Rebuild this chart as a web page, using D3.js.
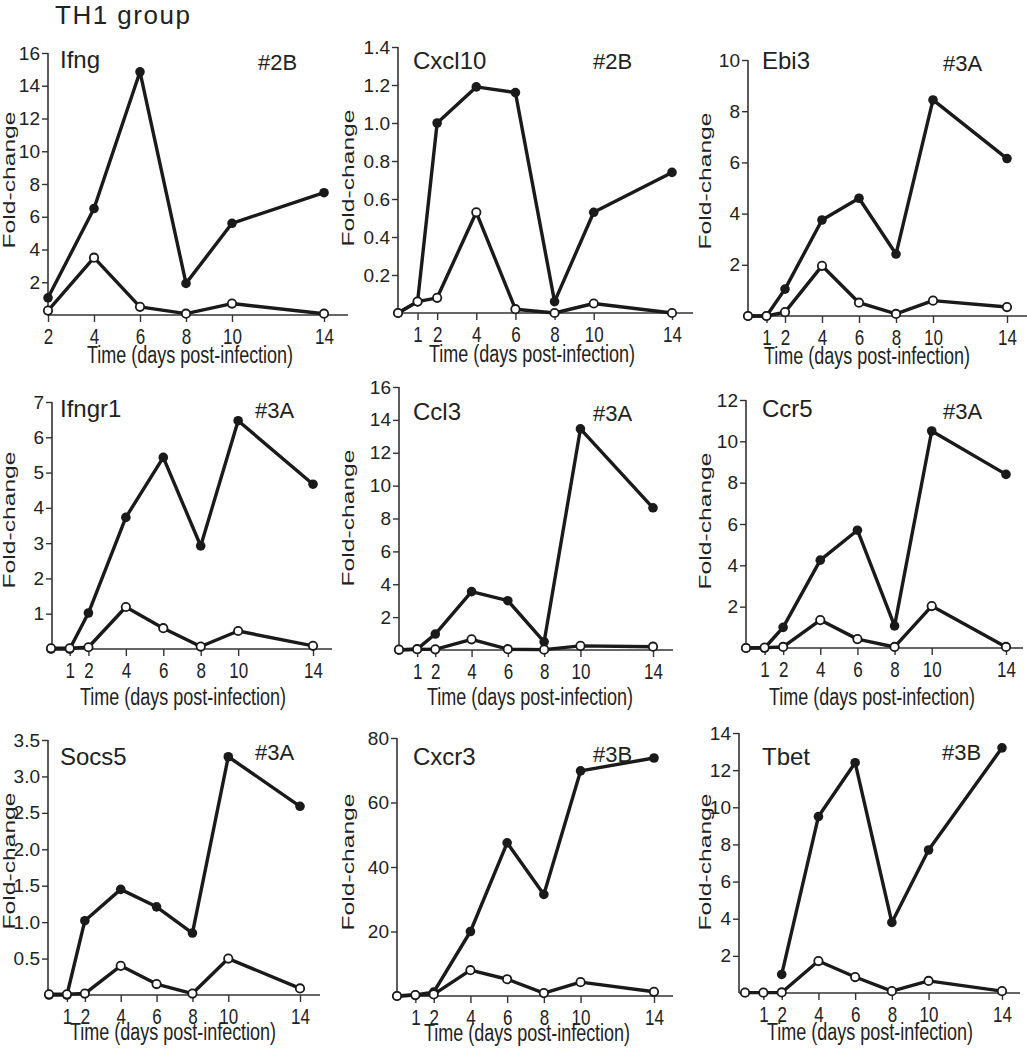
<!DOCTYPE html>
<html>
<head>
<meta charset="utf-8">
<script src="https://cdn.jsdelivr.net/npm/d3@7"></script>
<style>
  html, body { margin: 0; padding: 0; background: #fff; }
  svg { display: block; font-family: "Liberation Sans", Arial, Helvetica, sans-serif; }
</style>
</head>
<body>
<svg id="chart" width="1027" height="1050"></svg>
<script>
// ---------------- DATA ----------------
const title = "TH1 group";
const genes = ["Ifng", "Cxcl10", "Ebi3", "Ifngr1", "Ccl3", "Ccr5", "Socs5", "Cxcr3", "Tbet"];
const figureRefs = ["#2B", "#2B", "#3A", "#3A", "#3A", "#3A", "#3A", "#3B", "#3B"];
const yAxisLabel = "Fold-change";
const xAxisLabel = "Time (days post-infection)";

const daysIfng = [2, 4, 6, 8, 10, 14];
const daysAll = [0, 1, 2, 4, 6, 8, 10, 14];
const xTicksIfng = [2, 4, 6, 8, 10, 14];
const xTicksAll = [1, 2, 4, 6, 8, 10, 14];

const ifngFilled   = [1.05, 6.5, 14.85, 1.93, 5.6, 7.47];
const ifngOpen     = [0.27, 3.5, 0.5, 0.08, 0.7, 0.08];
const cxcl10Filled = [0, 0.06, 1.0, 1.19, 1.16, 0.06, 0.53, 0.74];
const cxcl10Open   = [0, 0.06, 0.08, 0.53, 0.02, 0.0, 0.05, 0.0];
const ebi3Filled   = [0, 0, 1.05, 3.75, 4.6, 2.42, 8.44, 6.15];
const ebi3Open     = [0, 0, 0.15, 1.96, 0.52, 0.08, 0.6, 0.35];
const ifngr1Filled = [0, 0, 1.02, 3.73, 5.43, 2.92, 6.47, 4.67];
const ifngr1Open   = [0.02, 0.02, 0.05, 1.19, 0.59, 0.07, 0.51, 0.09];
const ccl3Filled   = [0, 0.05, 0.97, 3.55, 3.0, 0.5, 13.45, 8.65];
const ccl3Open     = [0.02, 0.05, 0.04, 0.65, 0.05, 0.02, 0.25, 0.2];
const ccr5Filled   = [0, 0, 1.0, 4.25, 5.7, 1.07, 10.5, 8.4];
const ccr5Open     = [0, 0.02, 0.05, 1.35, 0.43, 0.05, 2.03, 0.05];
const socs5Filled  = [0, 0, 1.02, 1.45, 1.21, 0.85, 3.27, 2.59];
const socs5Open    = [0.01, 0.01, 0.02, 0.4, 0.15, 0.02, 0.5, 0.09];
const cxcr3Filled  = [0, 0.3, 1.2, 20, 47.5, 31.5, 69.8, 73.8];
const cxcr3Open    = [0, 0.3, 0.5, 8, 5.2, 0.9, 4.3, 1.3];
const tbetFilled   = [null, null, 1.0, 9.5, 12.4, 3.8, 7.7, 13.2];
const tbetOpen     = [0.02, 0.02, 0.03, 1.72, 0.86, 0.1, 0.65, 0.1];

const yMaxes = [16, 1.4, 10, 7, 16, 12, 3.5, 80, 14];
const yTicksIfng   = [2, 4, 6, 8, 10, 12, 14, 16];
const yTicksCxcl10 = [0.2, 0.4, 0.6, 0.8, 1.0, 1.2, 1.4];
const yTicksEbi3   = [2, 4, 6, 8, 10];
const yTicksIfngr1 = [1, 2, 3, 4, 5, 6, 7];
const yTicksCcl3   = [2, 4, 6, 8, 10, 12, 14, 16];
const yTicksCcr5   = [2, 4, 6, 8, 10, 12];
const yTicksSocs5  = [0.5, 1.0, 1.5, 2.0, 2.5, 3.0, 3.5];
const yTicksCxcr3  = [20, 40, 60, 80];
const yTicksTbet   = [2, 4, 6, 8, 10, 12, 14];
const yTickFormats = ["d", ".1f", "d", "d", "d", "d", ".1f", "d", "d"];

// ---------------- PANELS ----------------
const panelDays   = [daysIfng, daysAll, daysAll, daysAll, daysAll, daysAll, daysAll, daysAll, daysAll];
const panelXTicks = [xTicksIfng, xTicksAll, xTicksAll, xTicksAll, xTicksAll, xTicksAll, xTicksAll, xTicksAll, xTicksAll];
const panelFilled = [ifngFilled, cxcl10Filled, ebi3Filled, ifngr1Filled, ccl3Filled, ccr5Filled, socs5Filled, cxcr3Filled, tbetFilled];
const panelOpen   = [ifngOpen, cxcl10Open, ebi3Open, ifngr1Open, ccl3Open, ccr5Open, socs5Open, cxcr3Open, tbetOpen];
const panelYTicks = [yTicksIfng, yTicksCxcl10, yTicksEbi3, yTicksIfngr1, yTicksCcl3, yTicksCcr5, yTicksSocs5, yTicksCxcr3, yTicksTbet];

// layout (pixel geometry of each panel)
const layout = [
  {xa: 48,  xb: 324,  ax: 48,  y0: 315, yt: 53,  end: 348,  gx: 60,  gy: 68,  rx: 258, ry: 70,  fx: 9,   fy: 180, tx: 190, ty: 363},
  {xa: 398, xb: 672,  ax: 398, y0: 313, yt: 47,  end: 693,  gx: 413, gy: 69,  rx: 593, ry: 69,  fx: 348, fy: 178, tx: 532, ty: 362},
  {xa: 748, xb: 1007, ax: 748, y0: 316, yt: 60,  end: 1027, gx: 762, gy: 69,  rx: 943, ry: 71,  fx: 705, fy: 181, tx: 867, ty: 364},
  {xa: 51,  xb: 313,  ax: 52,  y0: 649, yt: 402, end: 332,  gx: 60,  gy: 417, rx: 255, ry: 418, fx: 9,   fy: 520, tx: 183, ty: 705},
  {xa: 399, xb: 653,  ax: 399, y0: 650, yt: 387, end: 673,  gx: 413, gy: 420, rx: 593, ry: 421, fx: 348, fy: 518, tx: 530, ty: 705},
  {xa: 746, xb: 1006, ax: 746, y0: 648, yt: 400, end: 1023, gx: 762, gy: 417, rx: 943, ry: 419, fx: 705, fy: 521, tx: 872, ty: 705},
  {xa: 49,  xb: 300,  ax: 48,  y0: 995, yt: 740, end: 320,  gx: 60,  gy: 765, rx: 255, ry: 760, fx: 9,   fy: 861, tx: 173, ty: 1040},
  {xa: 397, xb: 654,  ax: 397, y0: 996, yt: 738, end: 673,  gx: 413, gy: 765, rx: 593, ry: 762, fx: 348, fy: 862, tx: 527, ty: 1041},
  {xa: 745, xb: 1002, ax: 739, y0: 993, yt: 733, end: 1020, gx: 762, gy: 765, rx: 942, ry: 760, fx: 705, fy: 862, tx: 870, ty: 1040}
];

const ink = "#1a1a1a";
const axisInk = "#333";
const svg = d3.select("#chart");

svg.append("text").attr("x", 55).attr("y", 24)
  .attr("font-size", 26).attr("letter-spacing", 1.5).attr("fill", "#222").text(title);

genes.forEach((gene, i) => {
  const L = layout[i];
  const days = panelDays[i];
  const x = d3.scaleLinear().domain([days[0], 14]).range([L.xa, L.xb]);
  const y = d3.scaleLinear().domain([0, yMaxes[i]]).range([L.y0, L.yt]);
  const g = svg.append("g");

  // x axis
  const xAxis = d3.axisBottom(x).tickValues(panelXTicks[i]).tickSize(7).tickSizeOuter(0).tickFormat(d3.format("d"));
  const gx = g.append("g").attr("transform", `translate(0,${L.y0})`).call(xAxis);
  gx.select(".domain").remove();
  gx.append("line").attr("x1", L.ax).attr("x2", L.end).attr("y1", 0).attr("y2", 0)
    .attr("stroke", axisInk).attr("stroke-width", 1.6);
  gx.selectAll(".tick line").attr("stroke", axisInk).attr("stroke-width", 1.4);
  gx.selectAll(".tick text").attr("font-size", 17).attr("fill", "#222")
    .attr("font-family", '"Liberation Sans", Arial, sans-serif')
    .attr("y", 21.5).attr("dy", 0).attr("transform", "scale(1,1.35)");

  // y axis
  const yAxis = d3.axisLeft(y).tickValues(panelYTicks[i]).tickSize(6).tickPadding(2).tickSizeOuter(0)
    .tickFormat(d3.format(yTickFormats[i]));
  const gy = g.append("g").attr("transform", `translate(${L.ax},0)`).call(yAxis);
  gy.select(".domain").remove();
  gy.append("line").attr("x1", 0).attr("x2", 0).attr("y1", L.y0).attr("y2", y(yMaxes[i]))
    .attr("stroke", axisInk).attr("stroke-width", 1.6);
  gy.selectAll(".tick line").attr("stroke", axisInk).attr("stroke-width", 1.4);
  gy.selectAll(".tick text").attr("font-size", 19).attr("fill", "#222")
    .attr("font-family", '"Liberation Sans", Arial, sans-serif');

  // series
  const filledPts = days.map((d, k) => ({d, v: panelFilled[i][k]})).filter(p => p.v !== null);
  const openPts = days.map((d, k) => ({d, v: panelOpen[i][k]}));
  const line = d3.line().x(p => x(p.d)).y(p => y(p.v));

  g.append("path").datum(filledPts).attr("d", line).attr("fill", "none")
    .attr("stroke", ink).attr("stroke-width", 3.4).attr("stroke-linejoin", "round");
  g.append("path").datum(openPts).attr("d", line).attr("fill", "none")
    .attr("stroke", ink).attr("stroke-width", 3.4).attr("stroke-linejoin", "round");
  g.selectAll(".fdot").data(filledPts).enter().append("circle")
    .attr("cx", p => x(p.d)).attr("cy", p => y(p.v)).attr("r", 4.8).attr("fill", ink);
  g.selectAll(".odot").data(openPts).enter().append("circle")
    .attr("cx", p => x(p.d)).attr("cy", p => y(p.v)).attr("r", 4.2)
    .attr("fill", "#fff").attr("stroke", ink).attr("stroke-width", 1.8);

  // labels
  g.append("text").attr("x", L.gx).attr("y", L.gy).attr("font-size", 24).attr("fill", "#222").text(gene);
  g.append("text").attr("x", L.rx).attr("y", L.ry).attr("font-size", 22).attr("fill", "#222").text(figureRefs[i]);
  g.append("text").attr("transform", `translate(${L.fx},${L.fy}) scale(1,1.45) rotate(-90)`)
    .attr("text-anchor", "middle").attr("dy", "0.35em").attr("font-size", 17).attr("fill", "#222").text(yAxisLabel);
  g.append("text").attr("transform", `translate(${L.tx},${L.ty}) scale(1,1.28)`)
    .attr("text-anchor", "middle").attr("font-size", 18).attr("fill", "#222").text(xAxisLabel);
});
</script>
</body>
</html>
